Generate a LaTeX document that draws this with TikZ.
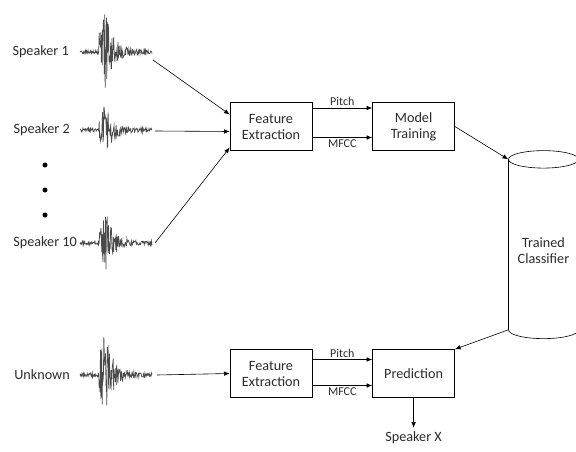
\documentclass[tikz,border=0pt]{standalone}
\usepackage{fontspec}
\setmainfont{Carlito}
\usetikzlibrary{arrows.meta,positioning,shapes.geometric}
\definecolor{wavecol}{HTML}{4A4A4A}
\definecolor{inkcol}{HTML}{2B2B2B}

\begin{document}
\begin{tikzpicture}[
  x=1pt, y=-1pt,
  node distance=60pt,
  font=\fontsize{14.2}{16}\selectfont, text=inkcol,
  declare function={wenv(\t,\a)=2+(\t>19)*\a*exp(-abs(\t-25)/8);},
  block/.style={rectangle, draw, semithick, align=center, minimum width=82pt, minimum height=48pt},
  store/.style={cylinder, draw, semithick, shape border rotate=90, aspect=0.3, align=center, minimum width=70pt, minimum height=188pt},
  spk/.style={anchor=east, inner sep=0pt},
  feat/.style={font=\fontsize{12}{13}\selectfont, inner sep=2pt},
  arrow/.style={-{Latex[length=2mm, width=1.6mm]}, semithick},
  pics/wave/.style 2 args={code={
    \pgfmathsetseed{#2}
    \draw[wavecol, line width=0.7pt] plot[domain=0:72, samples=170] (\x, {wenv(\x,#1)*rand});
  }}
]
\useasboundingbox (0,0) rectangle (576,452);

% training speakers
\node[spk] (s1) at (69,52) {Speaker 1};
\node[spk] (s2) at (70,130) {Speaker 2};
\node[spk] (s10) at (77,243) {Speaker 10};
\node[spk] (unk) at (70,375) {Unknown};
\pic at (80,52) {wave={40}{11}};
\pic at (80,130) {wave={24}{23}};
\pic at (80,243) {wave={30}{37}};
\pic at (80,375) {wave={42}{51}};
\foreach \yy in {165,190,215} \fill (45,\yy) circle (2.5pt);
\coordinate (w1) at (153,60);
\coordinate (w2) at (155,131);
\coordinate (w10) at (155,243);
\coordinate (wu) at (157,375);

% blocks
\node[block] (fe1) at (271,126.5) {Feature\\Extraction};
\node[block, right=of fe1] (train) {Model\\Training};
\node[store] (clf) at (543.5,251) {Trained\\Classifier};
\node[block] (fe2) at (271,373.5) {Feature\\Extraction};
\node[block, right=of fe2] (pred) {Prediction};
\node[below=30pt of pred] (out) {Speaker X};

\draw[arrow] (w1) -- ([yshift=12pt]fe1.west);
\draw[arrow] (w2) -- ([yshift=-5pt]fe1.west);
\draw[arrow] (w10) -- ([yshift=-21pt]fe1.west);
\draw[arrow] ([yshift=18.5pt]fe1.east) -- node[feat, above] {Pitch} ([yshift=18.5pt]train.west);
\draw[arrow] ([yshift=-11pt]fe1.east) -- node[feat, below] {MFCC} ([yshift=-11pt]train.west);
\draw[arrow] (train.east) -- (clf.before top);
\draw[arrow] (clf.after bottom) -- (pred.north east);
\draw[arrow] (wu) -- (fe2.west);
\draw[arrow] ([yshift=14pt]fe2.east) -- node[feat, above] {Pitch} ([yshift=14pt]pred.west);
\draw[arrow] ([yshift=-12pt]fe2.east) -- node[feat, below] {MFCC} ([yshift=-12pt]pred.west);
\draw[arrow] (pred.south) -- (out.north);
\end{tikzpicture}
\end{document}
